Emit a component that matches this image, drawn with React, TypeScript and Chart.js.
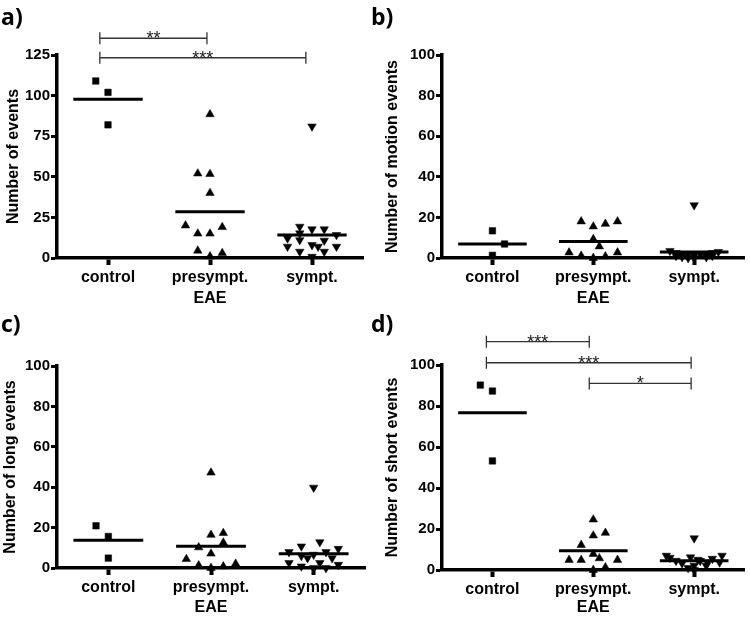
import React, { useEffect, useRef } from "react";
import { Chart, registerables } from "chart.js";
Chart.register(...registerables);

// ---------- shared labels ----------
const categories = ["control", "presympt.", "sympt."];
const xAxisTitle = "EAE";

// ---------- panel a: Number of events ----------
const aControl = [109, 102, 82];
const aControlCol = [-1, 0, 0];
const aPresympt = [88.5, 52, 51.7, 40, 20, 15, 15, 19, 4.5, 1, 3];
const aPresymptCol = [0, -1, 0, 0, -2, -1, 0, 1, -1, 0, 1];
const aSympt = [81, 19.3, 17.7, 17.7, 15.2, 14.2, 12.1, 11, 10.7, 8, 7, 7, 7, 3.9, 3.9, 0.8];
const aSymptCol = [0, -1, 0, 1, -1, 2, -2, -1, 1, 0, 0.5, -2, 2, -1, 1, 0];
const aMeans = [97.7, 28.5, 14.2];

// ---------- panel b: Number of motion events ----------
const bControl = [13.4, 6.9, 1.3];
const bControlCol = [0, 1, 0];
const bPresympt = [18, 15.5, 16.8, 18, 9.3, 5.7, 2.7, 1.1, 0.8, 2.7, 0];
const bPresymptCol = [-1, 0, 1, 2, 0, 0.5, -2, -1, 1, 2, 0];
const bSympt = [26, 3.5, 3, 2.5, 2.5, 2, 2, 2, 2, 1.5, 1, 1, 0.5, 0.5, 0, 0];
const bSymptCol = [0, -2, 2, -1.5, 1.5, -1, 1, -0.5, 0.5, 0, -1.5, 1.5, -1, 1, 0, -0.5];
const bMeans = [6.9, 8.1, 2.9];

// ---------- panel c: Number of long events ----------
const cControl = [20.9, 15.6, 4.9];
const cControlCol = [-1, 0, 0];
const cPresympt = [47.2, 16.4, 17.3, 10.2, 12.6, 7.1, 4.4, 1.3, 0.8, 2.1, 0];
const cPresymptCol = [0, 0, 1, -1, 1, 0, -2, -1, 1, 2, 0];
const cSympt = [39.8, 7.9, 10.7, 12.8, 7.9, 9.5, 6, 4.9, 6.6, 4.9, 2.5, 0.8, 2.5, 0, 1.6, 0];
const cSymptCol = [0, -2, -1, 0.5, 1, 2, -1, -0.5, 0, 1.5, -2, -1, 0.5, 1, 2, 0];
const cMeans = [13.7, 10.8, 7.1];

// ---------- panel d: Number of short events ----------
const dControl = [90.2, 87.3, 53.2];
const dControlCol = [-1, 0, 0];
const dPresympt = [24.6, 16.8, 18.1, 12.2, 7.8, 4.9, 4.9, 5.7, 4.9, 1.3, 0];
const dPresymptCol = [0, 0, 1, -1, 0, -2, -1, 0.5, 2, 1, 0];
const dSympt = [15.5, 7, 6, 4.5, 3.2, 6.2, 5, 4.5, 3.7, 5.5, 3.7, 7, 2.1, 2.1, 1, 0];
const dSymptCol = [0, -2.3, -2, -1.5, -1, -0.3, 0.3, 0.5, 1.1, 1.5, 2.1, 2.3, 0, 1, -0.5, 0];
const dMeans = [76.7, 9.4, 4.5];

// ---------- significance brackets (x in category units, y in data units) ----------
const aBrackets = [
  { from: -0.08, to: 0.97, level: 135.3, label: "**" },
  { from: -0.08, to: 1.94, level: 123.3, label: "***" },
];
const dBrackets = [
  { from: -0.06, to: 0.96, level: 111.4, label: "***" },
  { from: -0.06, to: 1.97, level: 101.1, label: "***" },
  { from: 0.96, to: 1.97, level: 91.0, label: "*" },
];

const JITTER = 0.12;
const MEAN_HALF = 0.34;
const FONT = "'Liberation Sans', Arial, sans-serif";

type Bracket = { from: number; to: number; level: number; label: string };
type PanelDef = {
  letter: string;
  yTitle: string;
  yMax: number;
  yStep: number;
  groups: { values: number[]; cols: number[]; style: string; rot: number }[];
  means: number[];
  brackets: Bracket[];
  box: { left: number; top: number; width: number; height: number };
  area: { padTop: number; padRight: number; yWidth: number; xHeight: number; yTitlePad: number };
  letterPos: { left: number; top: number };
};

const panels: PanelDef[] = [
  {
    letter: "a)",
    yTitle: "Number of events",
    yMax: 125,
    yStep: 25,
    groups: [
      { values: aControl, cols: aControlCol, style: "rect", rot: 0 },
      { values: aPresympt, cols: aPresymptCol, style: "triangle", rot: 0 },
      { values: aSympt, cols: aSymptCol, style: "triangle", rot: 180 },
    ],
    means: aMeans,
    brackets: aBrackets,
    box: { left: 0, top: 0, width: 375, height: 308 },
    area: { padTop: 55, padRight: 12, yWidth: 57, xHeight: 50, yTitlePad: 6 },
    letterPos: { left: 1, top: 4 },
  },
  {
    letter: "b)",
    yTitle: "Number of motion events",
    yMax: 100,
    yStep: 20,
    groups: [
      { values: bControl, cols: bControlCol, style: "rect", rot: 0 },
      { values: bPresympt, cols: bPresymptCol, style: "triangle", rot: 0 },
      { values: bSympt, cols: bSymptCol, style: "triangle", rot: 180 },
    ],
    means: bMeans,
    brackets: [],
    box: { left: 375, top: 0, width: 375, height: 308 },
    area: { padTop: 55, padRight: 3, yWidth: 67, xHeight: 50, yTitlePad: 10 },
    letterPos: { left: 371, top: 4 },
  },
  {
    letter: "c)",
    yTitle: "Number of long events",
    yMax: 100,
    yStep: 20,
    groups: [
      { values: cControl, cols: cControlCol, style: "rect", rot: 0 },
      { values: cPresympt, cols: cPresymptCol, style: "triangle", rot: 0 },
      { values: cSympt, cols: cSymptCol, style: "triangle", rot: 180 },
    ],
    means: cMeans,
    brackets: [],
    box: { left: 0, top: 308, width: 375, height: 309 },
    area: { padTop: 58, padRight: 10, yWidth: 57, xHeight: 49, yTitlePad: 3 },
    letterPos: { left: 1, top: 311 },
  },
  {
    letter: "d)",
    yTitle: "Number of short events",
    yMax: 100,
    yStep: 20,
    groups: [
      { values: dControl, cols: dControlCol, style: "rect", rot: 0 },
      { values: dPresympt, cols: dPresymptCol, style: "triangle", rot: 0 },
      { values: dSympt, cols: dSymptCol, style: "triangle", rot: 180 },
    ],
    means: dMeans,
    brackets: dBrackets,
    box: { left: 375, top: 308, width: 375, height: 309 },
    area: { padTop: 57, padRight: 3, yWidth: 67, xHeight: 47, yTitlePad: 10 },
    letterPos: { left: 371, top: 311 },
  },
];

const bracketPlugin = {
  id: "sigBrackets",
  afterDraw(chart: any, _args: any, opts: any) {
    const list: Bracket[] = opts && opts.items ? opts.items : [];
    if (!list.length) return;
    const { ctx } = chart;
    const xs = chart.scales.x;
    const ys = chart.scales.y;
    ctx.save();
    ctx.strokeStyle = "#333";
    ctx.fillStyle = "#1a1a1a";
    ctx.lineWidth = 1.3;
    ctx.font = `18px ${FONT}`;
    ctx.textAlign = "center";
    ctx.textBaseline = "alphabetic";
    for (const b of list) {
      const x1 = xs.getPixelForValue(b.from);
      const x2 = xs.getPixelForValue(b.to);
      const y = ys.getPixelForValue(b.level);
      ctx.beginPath();
      ctx.moveTo(x1, y);
      ctx.lineTo(x2, y);
      ctx.moveTo(x1, y - 6);
      ctx.lineTo(x1, y + 6);
      ctx.moveTo(x2, y - 6);
      ctx.lineTo(x2, y + 6);
      ctx.stroke();
      ctx.fillText(b.label, (x1 + x2) / 2, y + 6);
    }
    ctx.restore();
  },
};

function PanelChart({ def }: { def: PanelDef }) {
  const ref = useRef<HTMLCanvasElement | null>(null);
  useEffect(() => {
    if (!ref.current) return;
    const datasets: any[] = [];
    def.groups.forEach((g, gi) => {
      datasets.push({
        type: "scatter",
        data: g.values.map((v, i) => ({ x: gi + g.cols[i] * JITTER, y: v })),
        pointStyle: g.style,
        pointRotation: g.rot,
        pointRadius: g.style === "rect" ? 4.6 : 4.9,
        pointBackgroundColor: "#000",
        pointBorderColor: "#000",
        pointBorderWidth: 0.5,
        showLine: false,
        clip: false,
      });
      datasets.push({
        type: "scatter",
        data: [
          { x: gi - MEAN_HALF, y: def.means[gi] },
          { x: gi + MEAN_HALF, y: def.means[gi] },
        ],
        showLine: true,
        borderColor: "#000",
        borderWidth: 3,
        pointRadius: 0,
        clip: false,
      });
    });
    const a = def.area;
    const chart = new Chart(ref.current, {
      type: "scatter",
      data: { datasets },
      plugins: [bracketPlugin],
      options: {
        animation: false,
        responsive: false,
        maintainAspectRatio: false,
        events: [],
        layout: { padding: { top: a.padTop, right: a.padRight, left: 0, bottom: 0 } },
        plugins: {
          legend: { display: false },
          tooltip: { enabled: false },
          sigBrackets: { items: def.brackets },
        } as any,
        scales: {
          x: {
            type: "linear",
            min: -0.5,
            max: 2.5,
            z: 1,
            afterBuildTicks: (s: any) => {
              s.ticks = categories.map((_, i) => ({ value: i }));
            },
            afterFit: (s: any) => {
              s.height = a.xHeight;
            },
            ticks: {
              color: "#000",
              font: { family: FONT, size: 16, weight: "bold" },
              padding: 3,
              autoSkip: false,
              maxRotation: 0,
              callback: (v: any) => categories[Math.round(Number(v))] ?? "",
            },
            grid: {
              drawOnChartArea: false,
              drawTicks: true,
              tickLength: 7,
              tickWidth: 4,
              tickColor: "#000",
            },
            border: { display: true, color: "#000", width: 3.5 },
            title: {
              display: true,
              text: xAxisTitle,
              color: "#000",
              font: { family: FONT, size: 16, weight: "bold", lineHeight: 1 },
              padding: { top: 0, bottom: 1 },
            },
          },
          y: {
            type: "linear",
            min: 0,
            max: def.yMax,
            z: 1,
            afterFit: (s: any) => {
              s.width = a.yWidth;
            },
            ticks: {
              stepSize: def.yStep,
              color: "#000",
              font: { family: FONT, size: 15, weight: "bold" },
              padding: 1,
            },
            grid: {
              drawOnChartArea: false,
              drawTicks: true,
              tickLength: 6,
              tickWidth: 3,
              tickColor: "#000",
            },
            border: { display: true, color: "#000", width: 3.5 },
            title: {
              display: true,
              text: def.yTitle,
              color: "#000",
              font: { family: FONT, size: 16, weight: "bold", lineHeight: 1 },
              padding: { top: a.yTitlePad, bottom: 0 },
            },
          },
        },
      } as any,
    });
    return () => chart.destroy();
  }, [def]);
  return (
    <canvas
      ref={ref}
      width={def.box.width}
      height={def.box.height}
      style={{
        position: "absolute",
        left: def.box.left,
        top: def.box.top,
        width: def.box.width,
        height: def.box.height,
      }}
    />
  );
}

export default function App() {
  return (
    <div
      style={{
        position: "absolute",
        left: 0,
        top: 0,
        width: 750,
        height: 617,
        background: "#fff",
        overflow: "hidden",
      }}
    >
      {panels.map((p) => (
        <PanelChart key={p.letter} def={p} />
      ))}
      {panels.map((p) => (
        <div
          key={"l" + p.letter}
          style={{
            position: "absolute",
            left: p.letterPos.left,
            top: p.letterPos.top,
            fontFamily: "'Open Sans', sans-serif",
            fontWeight: 700,
            fontSize: 23,
            lineHeight: "24px",
            color: "#000",
          }}
        >
          {p.letter}
        </div>
      ))}
    </div>
  );
}
